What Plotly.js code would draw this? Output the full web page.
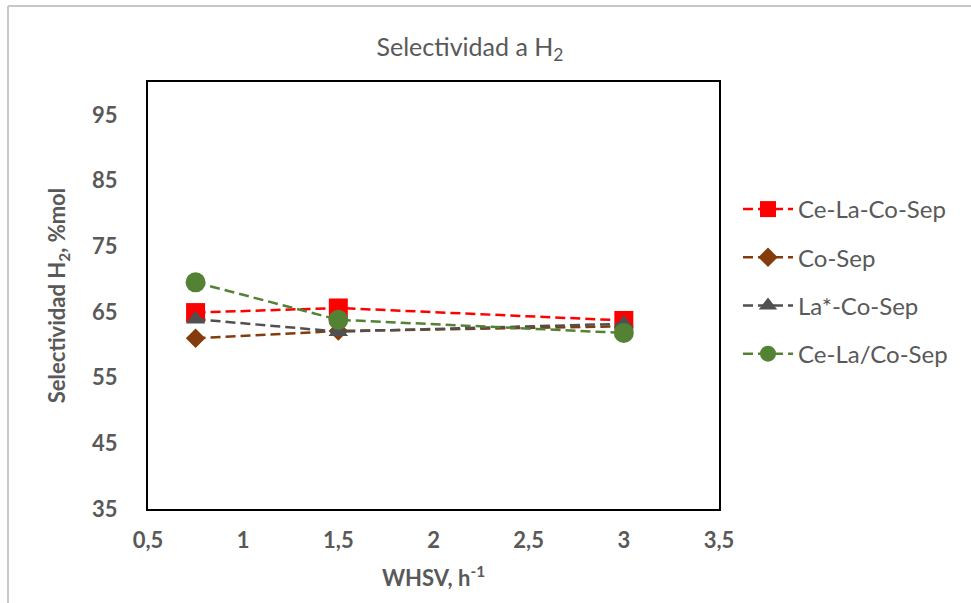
<!DOCTYPE html>
<html>
<head>
<meta charset="utf-8">
<script src="https://cdn.plot.ly/plotly-3.0.1.min.js"></script>
<style>html,body{margin:0;padding:0;background:#fff;}#chart{width:971px;height:603px;}</style>
</head>
<body>
<div id="chart"></div>
<script>
const whsv = [0.75, 1.5, 3];
const ceLaCoSep = [64.9, 65.6, 63.7];
const coSep = [61.0, 62.1, 62.8];
const laCoSep = [63.9, 62.0, 63.2];
const ceLaSlashCoSep = [69.5, 63.8, 61.8];
const seriesNames = ["Ce-La-Co-Sep", "Co-Sep", "La*-Co-Sep", "Ce-La/Co-Sep"];
const xTicks = [0.5, 1, 1.5, 2, 2.5, 3, 3.5];
const xTickText = ["0,5", "1", "1,5", "2", "2,5", "3", "3,5"];
const yTicks = [35, 45, 55, 65, 75, 85, 95];

const FONT = "Lato, 'Open Sans', sans-serif";
const mk = (y, name, color, symbol, size, g) => ({
  x: whsv, y: y, name: name, type: 'scatter', mode: 'lines+markers', legendgroup: g,
  line: {color: color, dash: '10px,5px', width: 2.5},
  marker: {color: color, symbol: symbol, size: size}
});
const data = [
  mk(ceLaCoSep, seriesNames[0], '#ff0000', 'square', 19, 'a'),
  mk(coSep, seriesNames[1], '#843c0c', 'diamond', 15, 'b'),
  mk(laCoSep, seriesNames[2], '#505050', 'triangle-up', 17, 'c'),
  mk(ceLaSlashCoSep, seriesNames[3], '#548235', 'circle', 20, 'd')
];
const PW = 571, PH = 427, L = 148, T = 82;
const px = v => (v - L) / PW;
const py = v => (T + PH - v) / PH;
const layout = {
  width: 971, height: 603,
  margin: {l: L, r: 971 - L - PW, t: T, b: 603 - T - PH},
  paper_bgcolor: '#fff', plot_bgcolor: '#fff',
  font: {family: FONT, color: '#595959'},
  title: {text: 'Selectividad a H<sub>2</sub>', font: {size: 25, color: '#595959', family: FONT}, x: px(470), xanchor: 'center', xref: 'paper', y: 1 - 47/603, yanchor: 'middle'},
  xaxis: {
    range: [0.5, 3.5], tickvals: xTicks, ticktext: xTickText,
    showgrid: false, zeroline: false, showline: true, linecolor: '#000', linewidth: 2, mirror: true,
    ticks: '', tickfont: {size: 22, color: '#595959', family: FONT, weight: 'bold'},
    ticklabelstandoff: 11,
    title: {text: 'WHSV, h<sup>-1</sup>', font: {size: 22, color: '#595959', family: FONT, weight: 'bold'}, standoff: 18}
  },
  yaxis: {
    range: [35, 100], tickvals: yTicks,
    showgrid: false, zeroline: false, showline: true, linecolor: '#000', linewidth: 2, mirror: true,
    ticks: '', tickfont: {size: 22, color: '#595959', family: FONT, weight: 'bold'},
    ticklabelstandoff: 24,
    title: {text: 'Selectividad H<sub>2</sub>, %mol', font: {size: 22, color: '#595959', family: FONT, weight: 'bold'}, standoff: 20}
  },
  legend: {x: px(738), y: py(187), xanchor: 'left', yanchor: 'top', font: {size: 24, color: '#595959', family: FONT}, traceorder: 'grouped', tracegroupgap: 14, itemwidth: 50, bgcolor: 'rgba(0,0,0,0)'},
  showlegend: true,
  shapes: [
    {type: 'line', xref: 'paper', yref: 'paper', x0: px(8), x1: px(8), y0: py(6), y1: py(620), line: {color: '#c8c8c8', width: 2}},
    {type: 'line', xref: 'paper', yref: 'paper', x0: px(8), x1: px(980), y0: py(6), y1: py(6), line: {color: '#c8c8c8', width: 2}}
  ]
};
Plotly.newPlot('chart', data, layout, {displayModeBar: false, staticPlot: true});
</script>
</body>
</html>
